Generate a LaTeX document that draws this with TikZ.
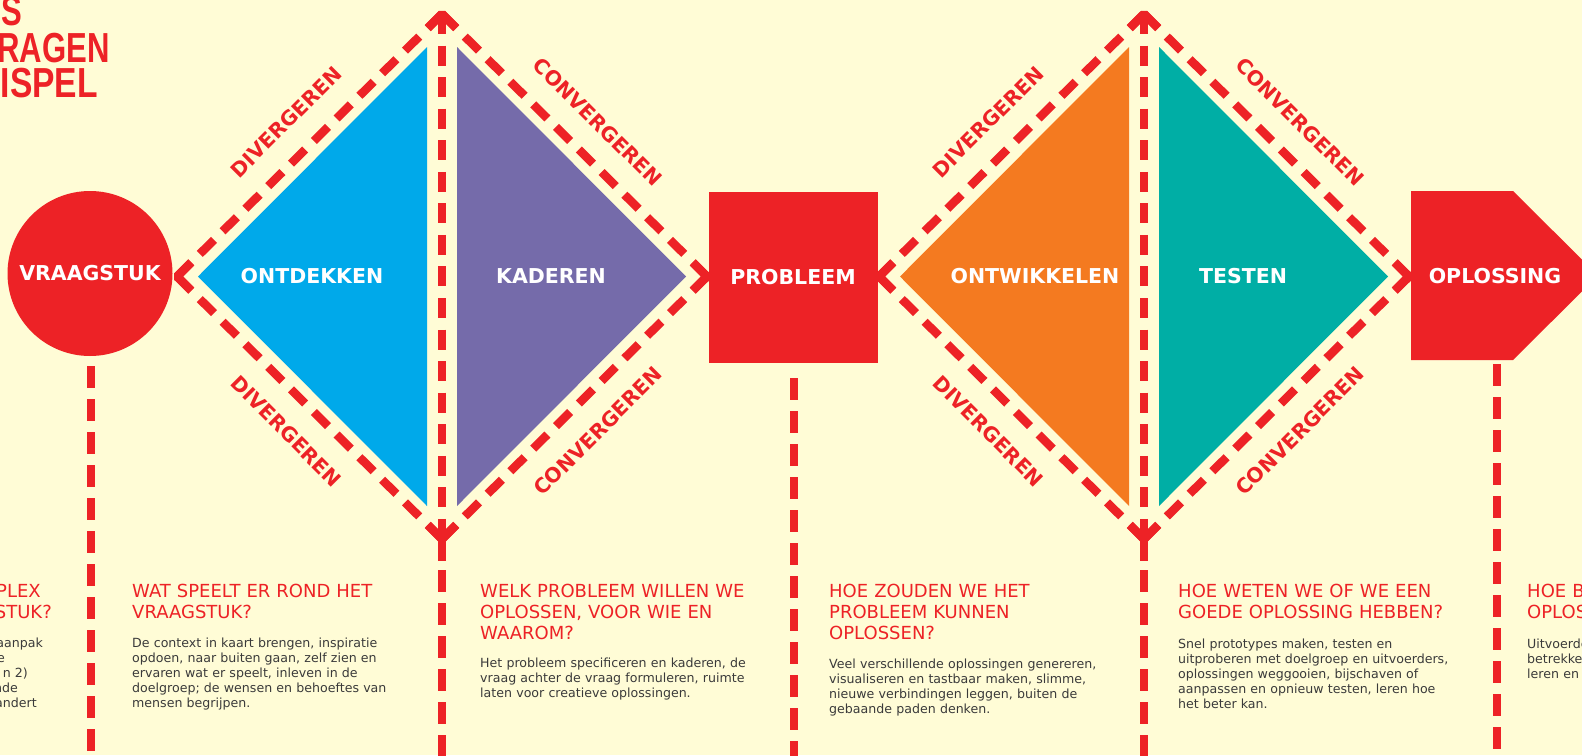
\documentclass[tikz,border=0pt]{standalone}
\usepackage{fontspec}
\usepackage{graphicx}
\setmainfont{DejaVu Sans}
\newfontfamily\titlefont{Liberation Sans}
\usetikzlibrary{calc}
\definecolor{bgc}{HTML}{FFFCD6}
\definecolor{rd}{HTML}{ED2226}
\definecolor{bl}{HTML}{00A9EA}
\definecolor{pu}{HTML}{756BAA}
\definecolor{orc}{HTML}{F47A20}
\definecolor{te}{HTML}{00AEA5}
\definecolor{txt}{HTML}{3A3A3A}
\begin{document}
\begin{tikzpicture}[x=1pt,y=-1pt,
  side/.style={draw=rd,line width=8.5pt,dash pattern=on 20pt off 12.09pt},
  chev/.style={draw=rd,line width=8.5pt,line join=bevel},
  vin/.style={draw=rd,line width=8.5pt,dash pattern=on 20pt off 11.56pt},
  vdash/.style={draw=rd,line width=8.5pt,dash pattern=on 22pt off 11pt},
  solidl/.style={draw=rd,line width=8.5pt},
  wl/.style={text=white,font=\fontsize{20.5}{24}\selectfont\bfseries,inner sep=0pt},
  rl/.style={text=rd,font=\fontsize{20.3}{24}\selectfont\bfseries,inner sep=0pt},
  hd/.style={text=rd,font=\fontsize{18}{21}\selectfont,inner sep=0pt,text width=330pt,align=left,anchor=base west},
  bd/.style={text=txt,font=\fontsize{12.6}{15}\selectfont,inner sep=0pt,text width=330pt,align=left,anchor=base west},
  hdf/.style={text=rd,font=\fontsize{18}{21}\selectfont,inner sep=0pt,anchor=base east},
  bdf/.style={text=txt,font=\fontsize{12.6}{15}\selectfont,inner sep=0pt,anchor=base east},
  ttl/.style={text=rd,font=\titlefont\fontsize{42}{44}\selectfont\bfseries,inner sep=0pt,anchor=base east},
]
\useasboundingbox (0,0) rectangle (1582,755);
\fill[bgc] (0,0) rectangle (1582,755);

% title fragments
\node[ttl] (t1) at (22,25) {\scalebox{0.74}[1]{S}};
\node[ttl] (t2) at (110,62) {\scalebox{0.74}[1]{RAGEN}};
\node[ttl] (t3) at (98,97) {\scalebox{0.8}[1]{ISPEL}};

% coloured triangles
\fill[bl] (198,276.5) -- (427,47) -- (427,506) -- cycle;
\fill[pu] (457,47) -- (686,276.5) -- (457,506) -- cycle;
\fill[orc] (900,276.5) -- (1129,47) -- (1129,506) -- cycle;
\fill[te] (1159,47) -- (1388,276.5) -- (1159,506) -- cycle;

% diamond corners
\coordinate (a-L) at (177,276.5);
\coordinate (a-T) at (442,14);
\coordinate (a-R) at (707,276.5);
\coordinate (a-B) at (442,539);
\coordinate (b-L) at (879,276.5);
\coordinate (b-T) at (1144,14);
\coordinate (b-R) at (1409,276.5);
\coordinate (b-B) at (1144,539);

\foreach \d in {a,b} {
  \draw[side] (\d-L) -- (\d-T);
  \draw[side] (\d-T) -- (\d-R);
  \draw[side] (\d-R) -- (\d-B);
  \draw[side] (\d-B) -- (\d-L);
  \draw[chev] ($(\d-L)!20pt!(\d-T)$) -- (\d-L) -- ($(\d-L)!20pt!(\d-B)$);
  \draw[chev] ($(\d-T)!20pt!(\d-L)$) -- (\d-T) -- ($(\d-T)!20pt!(\d-R)$);
  \draw[chev] ($(\d-R)!20pt!(\d-T)$) -- (\d-R) -- ($(\d-R)!20pt!(\d-B)$);
  \draw[chev] ($(\d-B)!20pt!(\d-L)$) -- (\d-B) -- ($(\d-B)!20pt!(\d-R)$);
  \draw[vin] (\d-T) -- (\d-B);
  \draw[solidl] (\d-B) -- ($(\d-B)+(0,22)$);
  \draw[vdash] ($(\d-B)+(0,31)$) -- ($(\d-B)+(0,225)$);
}

% main nodes
\node[circle,fill=rd,minimum size=165pt,wl] (vraag) at (90,273.5) {VRAAGSTUK};
\node[fill=rd,minimum width=169pt,minimum height=171pt,wl] (prob) at (793,277.5) {PROBLEEM};
\fill[rd] (1411,191) -- (1513,191) -- (1598,275.5) -- (1513,360) -- (1411,360) -- cycle;
\node[wl] (opl) at (1495,276) {OPLOSSING};
\coordinate (oplb) at (1497,364);

\node[wl] (ontd) at (312,276) {ONTDEKKEN};
\node[wl] (kad) at (551,276) {KADEREN};
\node[wl] (ontw) at (1035,276) {ONTWIKKELEN};
\node[wl] (test) at (1243,276) {TESTEN};

% vertical connectors below nodes
\draw[vdash] ($(vraag.south)+(1,10)$) -- ($(vraag.south)+(1,420)$);
\draw[vdash] ($(prob.south)+(1,15)$) -- ($(prob.south)+(1,420)$);
\draw[vdash] (oplb) -- ($(oplb)+(0,420)$);

% rotated labels
\foreach \d in {a,b} {
  \node[rl,rotate=45] (\d-ul) at ($($(\d-L)!0.5!(\d-T)$)+(-23.3,-23.3)$) {DIVERGEREN};
  \node[rl,rotate=-45] (\d-ll) at ($($(\d-L)!0.5!(\d-B)$)+(-23.3,23.3)$) {DIVERGEREN};
  \node[rl,rotate=-45] (\d-ur) at ($($(\d-R)!0.5!(\d-T)$)+(23.3,-23.3)$) {CONVERGEREN};
  \node[rl,rotate=45] (\d-lr) at ($($(\d-R)!0.5!(\d-B)$)+(23.3,23.3)$) {CONVERGEREN};
}

% text block 1 (cut off at left)
\foreach \t/\xe/\yb [count=\i] in {PLEX/41/597,STUK?/52/618}
  \node[hdf] (h1-\i) at (\xe,\yb) {\t};
\foreach \t/\xe/\yb [count=\i] in {aanpak/43/647,e/5/662,{n 2)}/28/677,nde/18/692,andert/37/707}
  \node[bdf] (p1-\i) at (\xe,\yb) {\t};

% text block 2
\node[hd] (h2) at (132,597) {WAT SPEELT ER ROND HET\\VRAAGSTUK?};
\node[bd] (p2) at (132,647) {De context in kaart brengen, inspiratie\\opdoen, naar buiten gaan, zelf zien en\\ervaren wat er speelt, inleven in de\\doelgroep; de wensen en behoeftes van\\mensen begrijpen.};

% text block 3
\node[hd] (h3) at (480,597) {WELK PROBLEEM WILLEN WE\\OPLOSSEN, VOOR WIE EN\\WAAROM?};
\node[bd] (p3) at (480,667) {Het probleem specificeren en kaderen, de\\vraag achter de vraag formuleren, ruimte\\laten voor creatieve oplossingen.};

% text block 4
\node[hd] (h4) at (829,597) {HOE ZOUDEN WE HET\\PROBLEEM KUNNEN\\OPLOSSEN?};
\node[bd] (p4) at (829,668) {Veel verschillende oplossingen genereren,\\visualiseren en tastbaar maken, slimme,\\nieuwe verbindingen leggen, buiten de\\gebaande paden denken.};

% text block 5
\node[hd] (h5) at (1178,597) {HOE WETEN WE OF WE EEN\\GOEDE OPLOSSING HEBBEN?};
\node[bd] (p5) at (1178,648) {Snel prototypes maken, testen en\\uitproberen met doelgroep en uitvoerders,\\oplossingen weggooien, bijschaven of\\aanpassen en opnieuw testen, leren hoe\\het beter kan.};

% text block 6 (cut off at right)
\node[hd] (h6) at (1527,597) {HOE B\\OPLOS};
\node[bd] (p6) at (1527,648) {Uitvoerde\\betrekke\\leren en};
\end{tikzpicture}
\end{document}
